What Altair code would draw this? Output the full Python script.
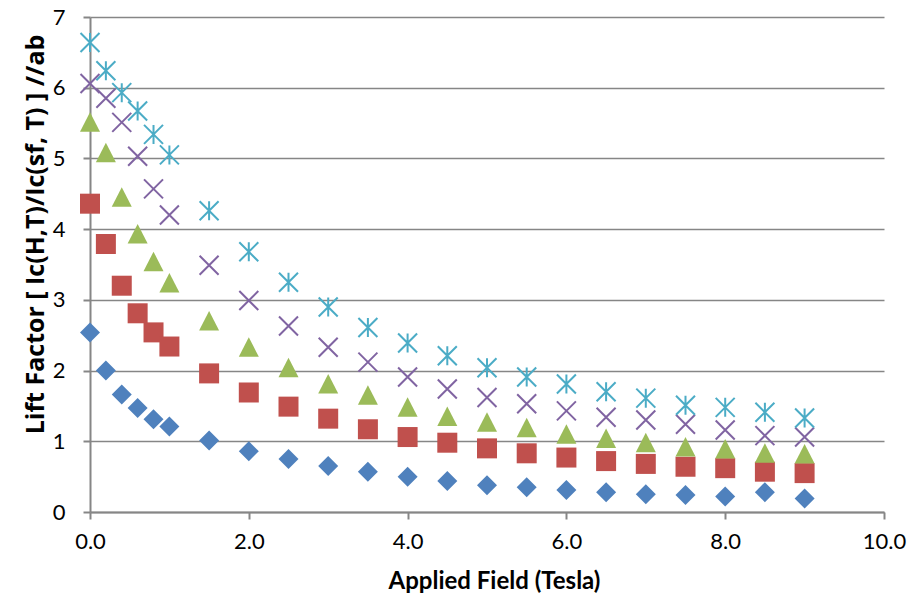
import altair as alt
import pandas as pd

# Applied field values (Tesla)
field = [0.0, 0.2, 0.4, 0.6, 0.8, 1.0, 1.5, 2.0, 2.5, 3.0, 3.5, 4.0, 4.5,
         5.0, 5.5, 6.0, 6.5, 7.0, 7.5, 8.0, 8.5, 9.0]

# Lift factor series
s_blue = [2.54, 2.00, 1.66, 1.47, 1.31, 1.21, 1.01, 0.86, 0.75, 0.65, 0.57,
          0.50, 0.44, 0.38, 0.35, 0.31, 0.28, 0.25, 0.24, 0.22, 0.28, 0.19]
s_red = [4.36, 3.79, 3.20, 2.81, 2.54, 2.34, 1.96, 1.69, 1.49, 1.32, 1.17,
         1.06, 0.98, 0.90, 0.83, 0.77, 0.72, 0.68, 0.64, 0.62, 0.57, 0.55]
s_green = [5.51, 5.08, 4.45, 3.93, 3.54, 3.24, 2.70, 2.33, 2.04, 1.81, 1.65,
           1.48, 1.35, 1.27, 1.19, 1.10, 1.04, 0.98, 0.92, 0.89, 0.83, 0.82]
s_purple = [6.06, 5.85, 5.51, 5.03, 4.57, 4.20, 3.49, 2.99, 2.63, 2.33, 2.12,
            1.91, 1.74, 1.62, 1.53, 1.43, 1.34, 1.30, 1.24, 1.16, 1.08, 1.06]
s_cyan = [6.64, 6.24, 5.93, 5.67, 5.34, 5.05, 4.26, 3.68, 3.25, 2.90, 2.61,
          2.39, 2.21, 2.04, 1.91, 1.81, 1.70, 1.61, 1.51, 1.48, 1.41, 1.33]

x_ticks = [0, 2, 4, 6, 8, 10]
y_ticks = [0, 1, 2, 3, 4, 5, 6, 7]

FONT = "Lato"
GRAY = "#868686"

x_enc = alt.X(
    "field:Q",
    scale=alt.Scale(domain=[0, 10], nice=False, zero=False),
    axis=alt.Axis(values=x_ticks, format=".1f", title="Applied Field (Tesla)",
                  grid=False, tickSize=7, labelPadding=12,
                  labelFlush=False, labelOverlap=False,
                  titleX=404, titleY=69, titleBaseline="middle"),
)
y_enc = alt.Y(
    "lift:Q",
    scale=alt.Scale(domain=[0, 7], nice=False),
    axis=alt.Axis(values=y_ticks, format="d",
                  title="Lift Factor [ Ic(H,T)/Ic(sf, T) ] //ab",
                  grid=True, tickSize=7, labelPadding=18,
                  labelFlush=False, labelOverlap=False,
                  titleFont="Open Sans", titleFontSize=25,
                  titleX=-55, titleY=217, titleAngle=-90,
                  titleBaseline="middle", titleAlign="center"),
)


def layer(values, **mark_kw):
    df = pd.DataFrame({"field": field, "lift": values})
    return alt.Chart(df).mark_point(opacity=1, **mark_kw).encode(x=x_enc, y=y_enc)


X_PATH = "M-1,-1L1,1M-1,1L1,-1"
STAR_PATH = "M-1,-1L1,1M-1,1L1,-1M0,-1L0,1"
TRI_PATH = "M0,-1L1,0.95L-1,0.95Z"

chart = alt.layer(
    layer(s_blue, shape="diamond", filled=True, size=400, color="#4F81BD"),
    layer(s_red, shape="square", filled=True, size=400, color="#C0504D"),
    layer(s_green, shape=TRI_PATH, filled=True, size=400, color="#9BBB59"),
    layer(s_purple, shape=X_PATH, filled=False, size=361, color="#8064A2",
          strokeWidth=2),
    layer(s_cyan, shape=STAR_PATH, filled=False, size=361, color="#4BACC6",
          strokeWidth=2),
).properties(
    width=794,
    height=495,
    autosize=alt.AutoSizeParams(type="none"),
    padding={"left": 90, "top": 17, "right": 29, "bottom": 88},
    background="white",
).configure_view(
    stroke=None,
).configure_axis(
    domainColor=GRAY,
    domainWidth=2,
    tickColor=GRAY,
    tickWidth=2,
    gridColor=GRAY,
    gridWidth=1.5,
    labelFont=FONT,
    labelFontSize=22,
    labelColor="#000000",
    titleFont=FONT,
    titleFontSize=24,
    titleFontWeight="bold",
    titleColor="#000000",
)

chart.save("out.html", embed_options={"renderer": "svg", "actions": False})
